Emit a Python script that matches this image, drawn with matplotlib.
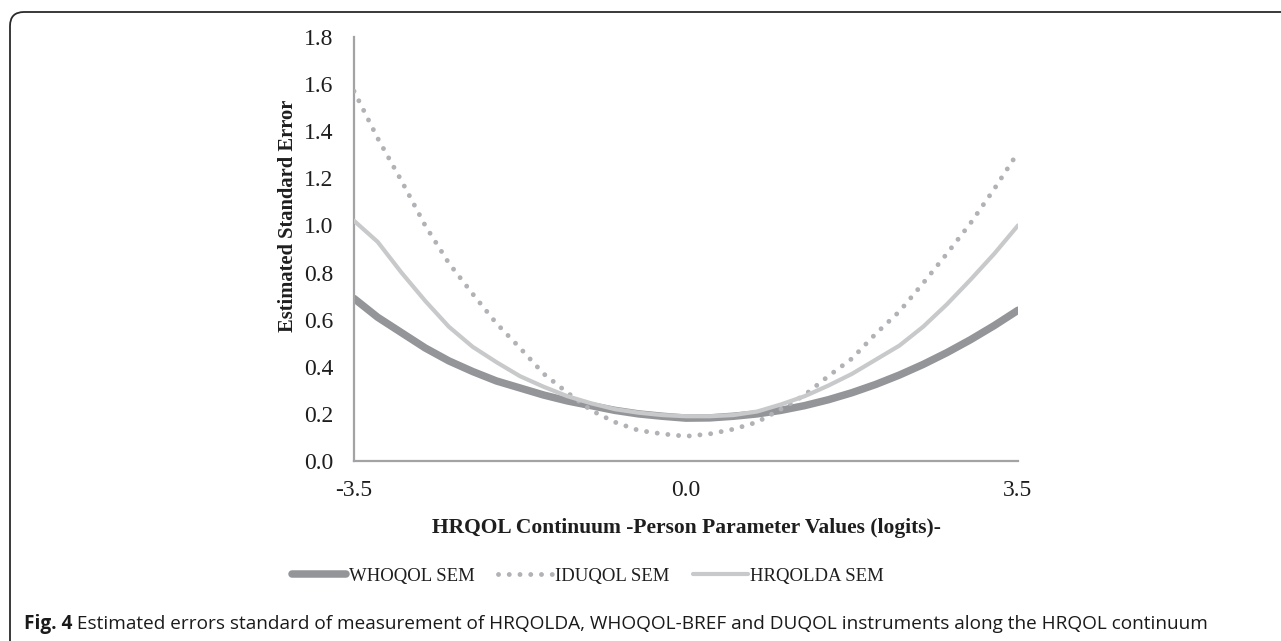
import numpy as np
import matplotlib
matplotlib.use("Agg")
import matplotlib.pyplot as plt
from matplotlib.patches import FancyBboxPatch
from matplotlib.lines import Line2D

# ---- data ----
logits = [-3.5, -3.25, -3.0, -2.75, -2.5, -2.25, -2.0, -1.75, -1.5, -1.25,
          -1.0, -0.75, -0.5, -0.25, 0.0, 0.25, 0.5, 0.75, 1.0, 1.25,
          1.5, 1.75, 2.0, 2.25, 2.5, 2.75, 3.0, 3.25, 3.5]
whoqol_sem = [0.69, 0.61, 0.545, 0.48, 0.425, 0.38, 0.34, 0.31, 0.28, 0.255,
              0.235, 0.215, 0.20, 0.19, 0.182, 0.183, 0.19, 0.20, 0.215, 0.235,
              0.26, 0.29, 0.325, 0.365, 0.41, 0.46, 0.515, 0.575, 0.64]
iduqol_sem = [1.57, 1.37, 1.19, 1.00, 0.84, 0.71, 0.585, 0.48, 0.37, 0.29,
              0.215, 0.165, 0.13, 0.115, 0.105, 0.115, 0.135, 0.165, 0.22, 0.28,
              0.36, 0.435, 0.54, 0.635, 0.755, 0.88, 1.01, 1.155, 1.31]
hrqolda_sem = [1.02, 0.93, 0.80, 0.68, 0.57, 0.485, 0.42, 0.36, 0.315, 0.275,
               0.245, 0.22, 0.205, 0.195, 0.19, 0.19, 0.195, 0.21, 0.24, 0.275,
               0.32, 0.37, 0.43, 0.49, 0.57, 0.665, 0.77, 0.88, 1.00]
series_names = ["WHOQOL SEM", "IDUQOL SEM", "HRQOLDA SEM"]
x_ticks = [-3.5, 0.0, 3.5]
y_ticks = [0.0, 0.2, 0.4, 0.6, 0.8, 1.0, 1.2, 1.4, 1.6, 1.8]
x_label = "HRQOL Continuum -Person Parameter Values (logits)-"
y_label = "Estimated Standard Error"
caption_bold = "Fig. 4"
caption_text = (" Estimated errors standard of measurement of HRQOLDA, WHOQOL-BREF "
                "and DUQOL instruments along the HRQOL continuum")

SERIF = ["Liberation Serif", "DejaVu Serif"]
c_who = "#939598"
c_idu = "#b1b2b5"
c_hrq = "#c8c9ca"
c_axis = "#a3a3a6"
c_text = "#1e1e1e"

fig = plt.figure(figsize=(12.81, 6.41), dpi=100)
ax = fig.add_axes([354/1281, 1-461/641, (1018-354)/1281, (461-37)/641])

dot_style = (0, (0.01, 2.2))
ax.plot(logits, whoqol_sem, color=c_who, lw=5.4, solid_capstyle="round",
        solid_joinstyle="round", label=series_names[0], zorder=2)
ax.plot(logits, iduqol_sem, color=c_idu, lw=3.5, linestyle=dot_style,
        dash_capstyle="round", label=series_names[1], zorder=3)
ax.plot(logits, hrqolda_sem, color=c_hrq, lw=3.0, solid_capstyle="round",
        solid_joinstyle="round", label=series_names[2], zorder=4)

ax.set_xlim(-3.5, 3.5)
ax.set_ylim(0, 1.8)
ax.set_xticks(x_ticks)
ax.set_xticklabels([f"{v:.1f}" for v in x_ticks], fontsize=17, family=SERIF,
                   color=c_text)
ax.set_yticks(y_ticks)
ax.set_yticklabels([f"{v:.1f}" for v in y_ticks], fontsize=17, family=SERIF,
                   color=c_text)
ax.tick_params(axis="x", length=0, pad=14)
ax.tick_params(axis="y", length=0, pad=15)
for s in ["top", "right"]:
    ax.spines[s].set_visible(False)
for s in ["left", "bottom"]:
    ax.spines[s].set_color(c_axis)
    ax.spines[s].set_linewidth(1.6)
ax.patch.set_visible(False)

ax.set_xlabel(x_label, fontsize=15.5, fontweight="bold", family=SERIF,
              color=c_text, labelpad=12)
ax.set_ylabel(y_label, fontsize=14.8, fontweight="bold", family=SERIF,
              color=c_text)
ax.yaxis.set_label_coords(-0.084, 0.578)

handles = [Line2D([], [], color=c_who, lw=5.4, solid_capstyle="round"),
           Line2D([], [], color=c_idu, lw=3.5, linestyle=dot_style,
                  dash_capstyle="round"),
           Line2D([], [], color=c_hrq, lw=3.0, solid_capstyle="round")]
leg = fig.legend(handles, series_names, loc="center", bbox_to_anchor=(588/1281, 1-576/641),
                 ncol=3, frameon=False, handlelength=2.9, handletextpad=0.15,
                 columnspacing=1.25, prop={"family": SERIF, "size": 13.5})
for t in leg.get_texts():
    t.set_color(c_text)

# caption
cap = fig.text(24/1281, 1-624/641, caption_bold, fontsize=13.7, fontweight="bold",
               family="Open Sans", color="#1a1a1a", va="center", ha="left")
fig.canvas.draw()
bb = cap.get_window_extent()
fig.text(bb.x1/1281, 1-624/641, caption_text, fontsize=13.7, family="Open Sans",
         color="#1a1a1a", va="center", ha="left")

# rounded frame
frame = FancyBboxPatch((0.10, -0.5), 14.0, 6.41 - 0.12 + 0.5,
                       boxstyle="round,pad=0,rounding_size=0.14",
                       transform=fig.dpi_scale_trans, fill=False,
                       edgecolor="#2a2a2a", lw=1.3, clip_on=False)
fig.patches.append(frame)

fig.savefig("out.png", dpi=100)
